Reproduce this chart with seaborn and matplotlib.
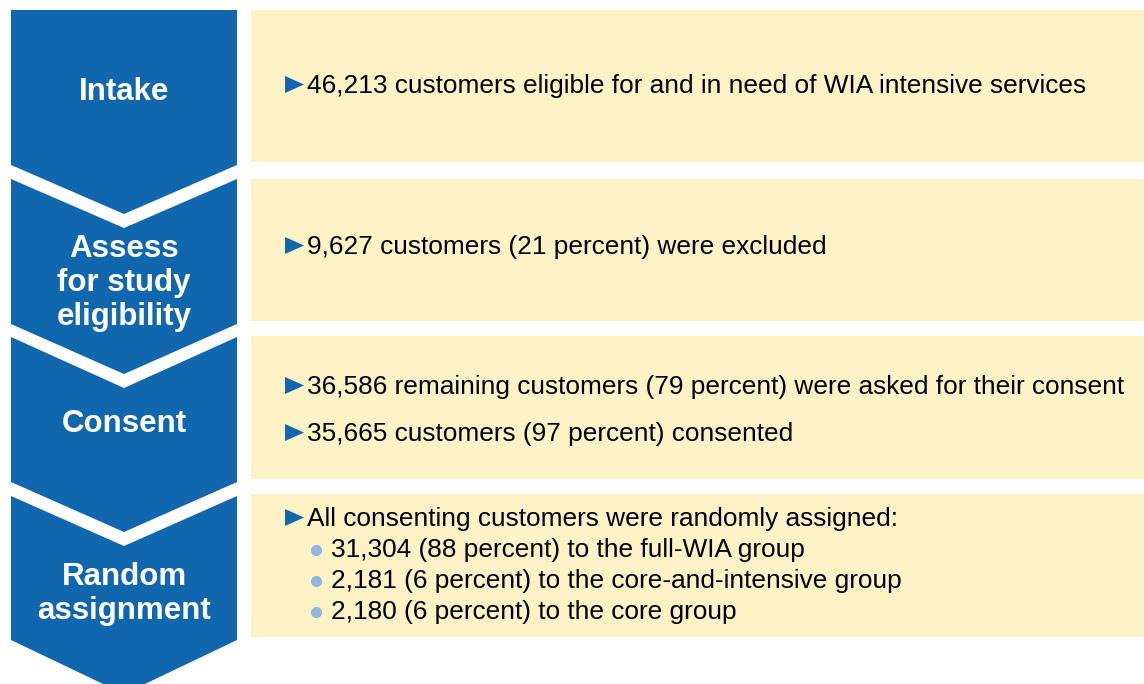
import matplotlib
matplotlib.use("Agg")
import matplotlib.pyplot as plt
from matplotlib.patches import Polygon, Rectangle
import seaborn as sns

# Stage names shown in the blue chevrons
stage_labels = [
    ["Intake"],
    ["Assess", "for study", "eligibility"],
    ["Consent"],
    ["Random", "assignment"],
]

# Main points for each stage (blue triangle bullets)
stage_points = [
    ["46,213 customers eligible for and in need of WIA intensive services"],
    ["9,627 customers (21 percent) were excluded"],
    ["36,586 remaining customers (79 percent) were asked for their consent",
     "35,665 customers (97 percent) consented"],
    ["All consenting customers were randomly assigned:"],
]

# Sub-points under random assignment (round bullets)
assignment_groups = [
    "31,304 (88 percent) to the full-WIA group",
    "2,181 (6 percent) to the core-and-intensive group",
    "2,180 (6 percent) to the core group",
]

sns.set_style("white")
plt.rcParams["font.family"] = ["Liberation Sans", "DejaVu Sans"]

BLUE = "#1067ae"
YELLOW = "#fdf2c5"
DOT = "#8cb8df"

fig = plt.figure(figsize=(11.44, 6.84), dpi=100)
ax = fig.add_axes([0, 0, 1, 1])
ax.set_xlim(0, 1144)
ax.set_ylim(684, 0)
ax.axis("off")

# chevron geometry: (top at sides, top at centre, bottom at sides, bottom point)
x0, x1 = 11, 237
xc = (x0 + x1) / 2
chevrons = [(10, 10, 165, 214), (179, 228, 324, 374),
            (337, 388, 482, 532), (496, 546, 640, 694)]
boxes = [(10, 162), (179, 321), (336, 479), (494, 637)]

for (ts, tc, bs, bp), (yt, yb) in zip(chevrons, boxes):
    ax.add_patch(Polygon([(x0, ts), (xc, tc), (x1, ts), (x1, bs), (xc, bp), (x0, bs)],
                         closed=True, facecolor=BLUE, edgecolor="none"))
    ax.add_patch(Rectangle((251, yt), 900, yb - yt, facecolor=YELLOW, edgecolor="none"))

# stage labels
label_baselines = [[100], [257, 291, 325], [432], [585, 619]]
for lines, ys in zip(stage_labels, label_baselines):
    for txt, y in zip(lines, ys):
        ax.text(xc, y, txt, ha="center", va="baseline", color="white",
                fontsize=22.5, fontweight="bold")

# main points
point_baselines = [[93], [254], [394, 441], [526]]
for lines, ys in zip(stage_points, point_baselines):
    for txt, y in zip(lines, ys):
        ax.add_patch(Polygon([(285, y - 17), (285, y), (304, y - 8.5)],
                             closed=True, facecolor=BLUE, edgecolor="none"))
        ax.text(307, y, txt, ha="left", va="baseline", color="black", fontsize=18.9)

# assignment sub-points
sub_baselines = [557, 588, 619]
for txt, y in zip(assignment_groups, sub_baselines):
    ax.plot(316, y - 7.5, marker="o", markersize=8, color=DOT, markeredgewidth=0)
    ax.text(331, y, txt, ha="left", va="baseline", color="black", fontsize=18.9)

fig.savefig("out.png", dpi=100)
